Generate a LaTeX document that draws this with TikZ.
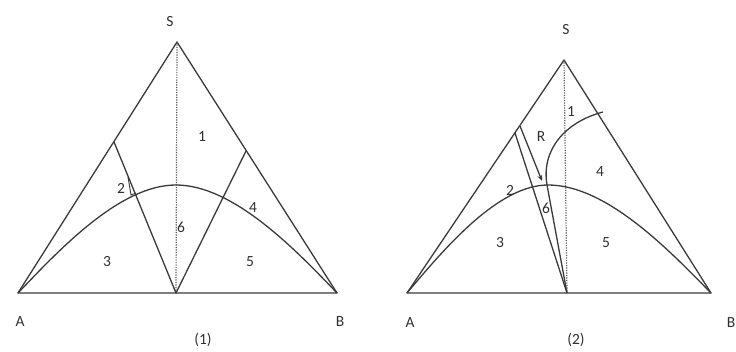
\documentclass[tikz,border=0pt]{standalone}
\usepackage{fontspec}
\setmainfont{Carlito}
\usetikzlibrary{arrows.meta}
\definecolor{ink}{HTML}{3A3A3A}
\definecolor{txt}{HTML}{303030}
\tikzset{
  edge/.style={draw=ink, line width=1.3pt, line join=round},
  dotline/.style={draw=ink!85, line width=1.2pt, dash pattern=on 1.2pt off 1.3pt},
  lab/.style={text=txt, font=\fontsize{15.5}{18}\selectfont, inner sep=0pt},
}
\begin{document}
\begin{tikzpicture}[x=1pt,y=-1pt]
\useasboundingbox (0,0) rectangle (736,352);
% ---------- diagram (1) ----------
\coordinate (A1) at (18,293);
\coordinate (B1) at (337,293);
\coordinate (S1) at (177,42);
\coordinate (M1) at (176,293);
\coordinate (L1) at (114,142);
\coordinate (R1) at (246,151);
\coordinate (P1) at (176,185);
\draw[edge] (A1) -- (S1) -- (B1) -- cycle;
\draw[dotline] (S1) -- (M1);
\draw[edge] (L1) -- (M1) -- (R1);
\draw[edge] (A1) .. controls (60,249) and (120,185) .. (P1)
            .. controls (233,185) and (295,249) .. (B1);
\coordinate (T1) at (128,177);
\coordinate (T2) at (131,195);
\coordinate (T3) at (136,193);
\draw[ink, line width=0.9pt] (T1) -- (T2) -- (T3);
\node[lab] (s1) at (170,22) {S};
\node[lab] (n11) at (202,137) {1};
\node[lab] (n12) at (121,188) {2};
\node[lab] (n14) at (253,208) {4};
\node[lab] (n16) at (181,227) {6};
\node[lab] (n13) at (107,262) {3};
\node[lab] (n15) at (250,262) {5};
\node[lab] (a1) at (20,322) {A};
\node[lab] (b1) at (340,322) {B};
\node[lab] (c1) at (203,340) {(1)};
% ---------- diagram (2) ----------
\coordinate (A2) at (407,293);
\coordinate (B2) at (711,293);
\coordinate (S2) at (564,60);
\coordinate (M2) at (567,293);
\coordinate (L2) at (515,133);
\coordinate (Q1) at (520,126);
\coordinate (Q2) at (542,181);
\coordinate (P2) at (548,185);
\coordinate (C0) at (603,112);
\coordinate (C1) at (547,185);
\draw[edge] (A2) -- (S2) -- (B2) -- cycle;
\draw[dotline] (S2) -- (M2);
\draw[edge] (L2) -- (M2);
\draw[edge] (A2) .. controls (444,249) and (498,185) .. (P2)
            .. controls (606,185) and (668,249) .. (B2);
\draw[edge] (C0) .. controls (565,122) and (541,150) .. (C1) -- (M2);
\draw[edge, -{Stealth[length=6pt,width=5pt]}] (Q1) -- (Q2);
\node[lab] (s2) at (566,30) {S};
\node[lab] (n21) at (571,112) {1};
\node[lab] (nR) at (541,137) {R};
\node[lab] (n24) at (600,172) {4};
\node[lab] (n22) at (510,190) {2};
\node[lab] (n26) at (546,208) {6};
\node[lab] (n23) at (500,243) {3};
\node[lab] (n25) at (606,243) {5};
\node[lab] (a2) at (410,323) {A};
\node[lab] (b2) at (731,323) {B};
\node[lab] (c2) at (576,340) {(2)};
\end{tikzpicture}
\end{document}
